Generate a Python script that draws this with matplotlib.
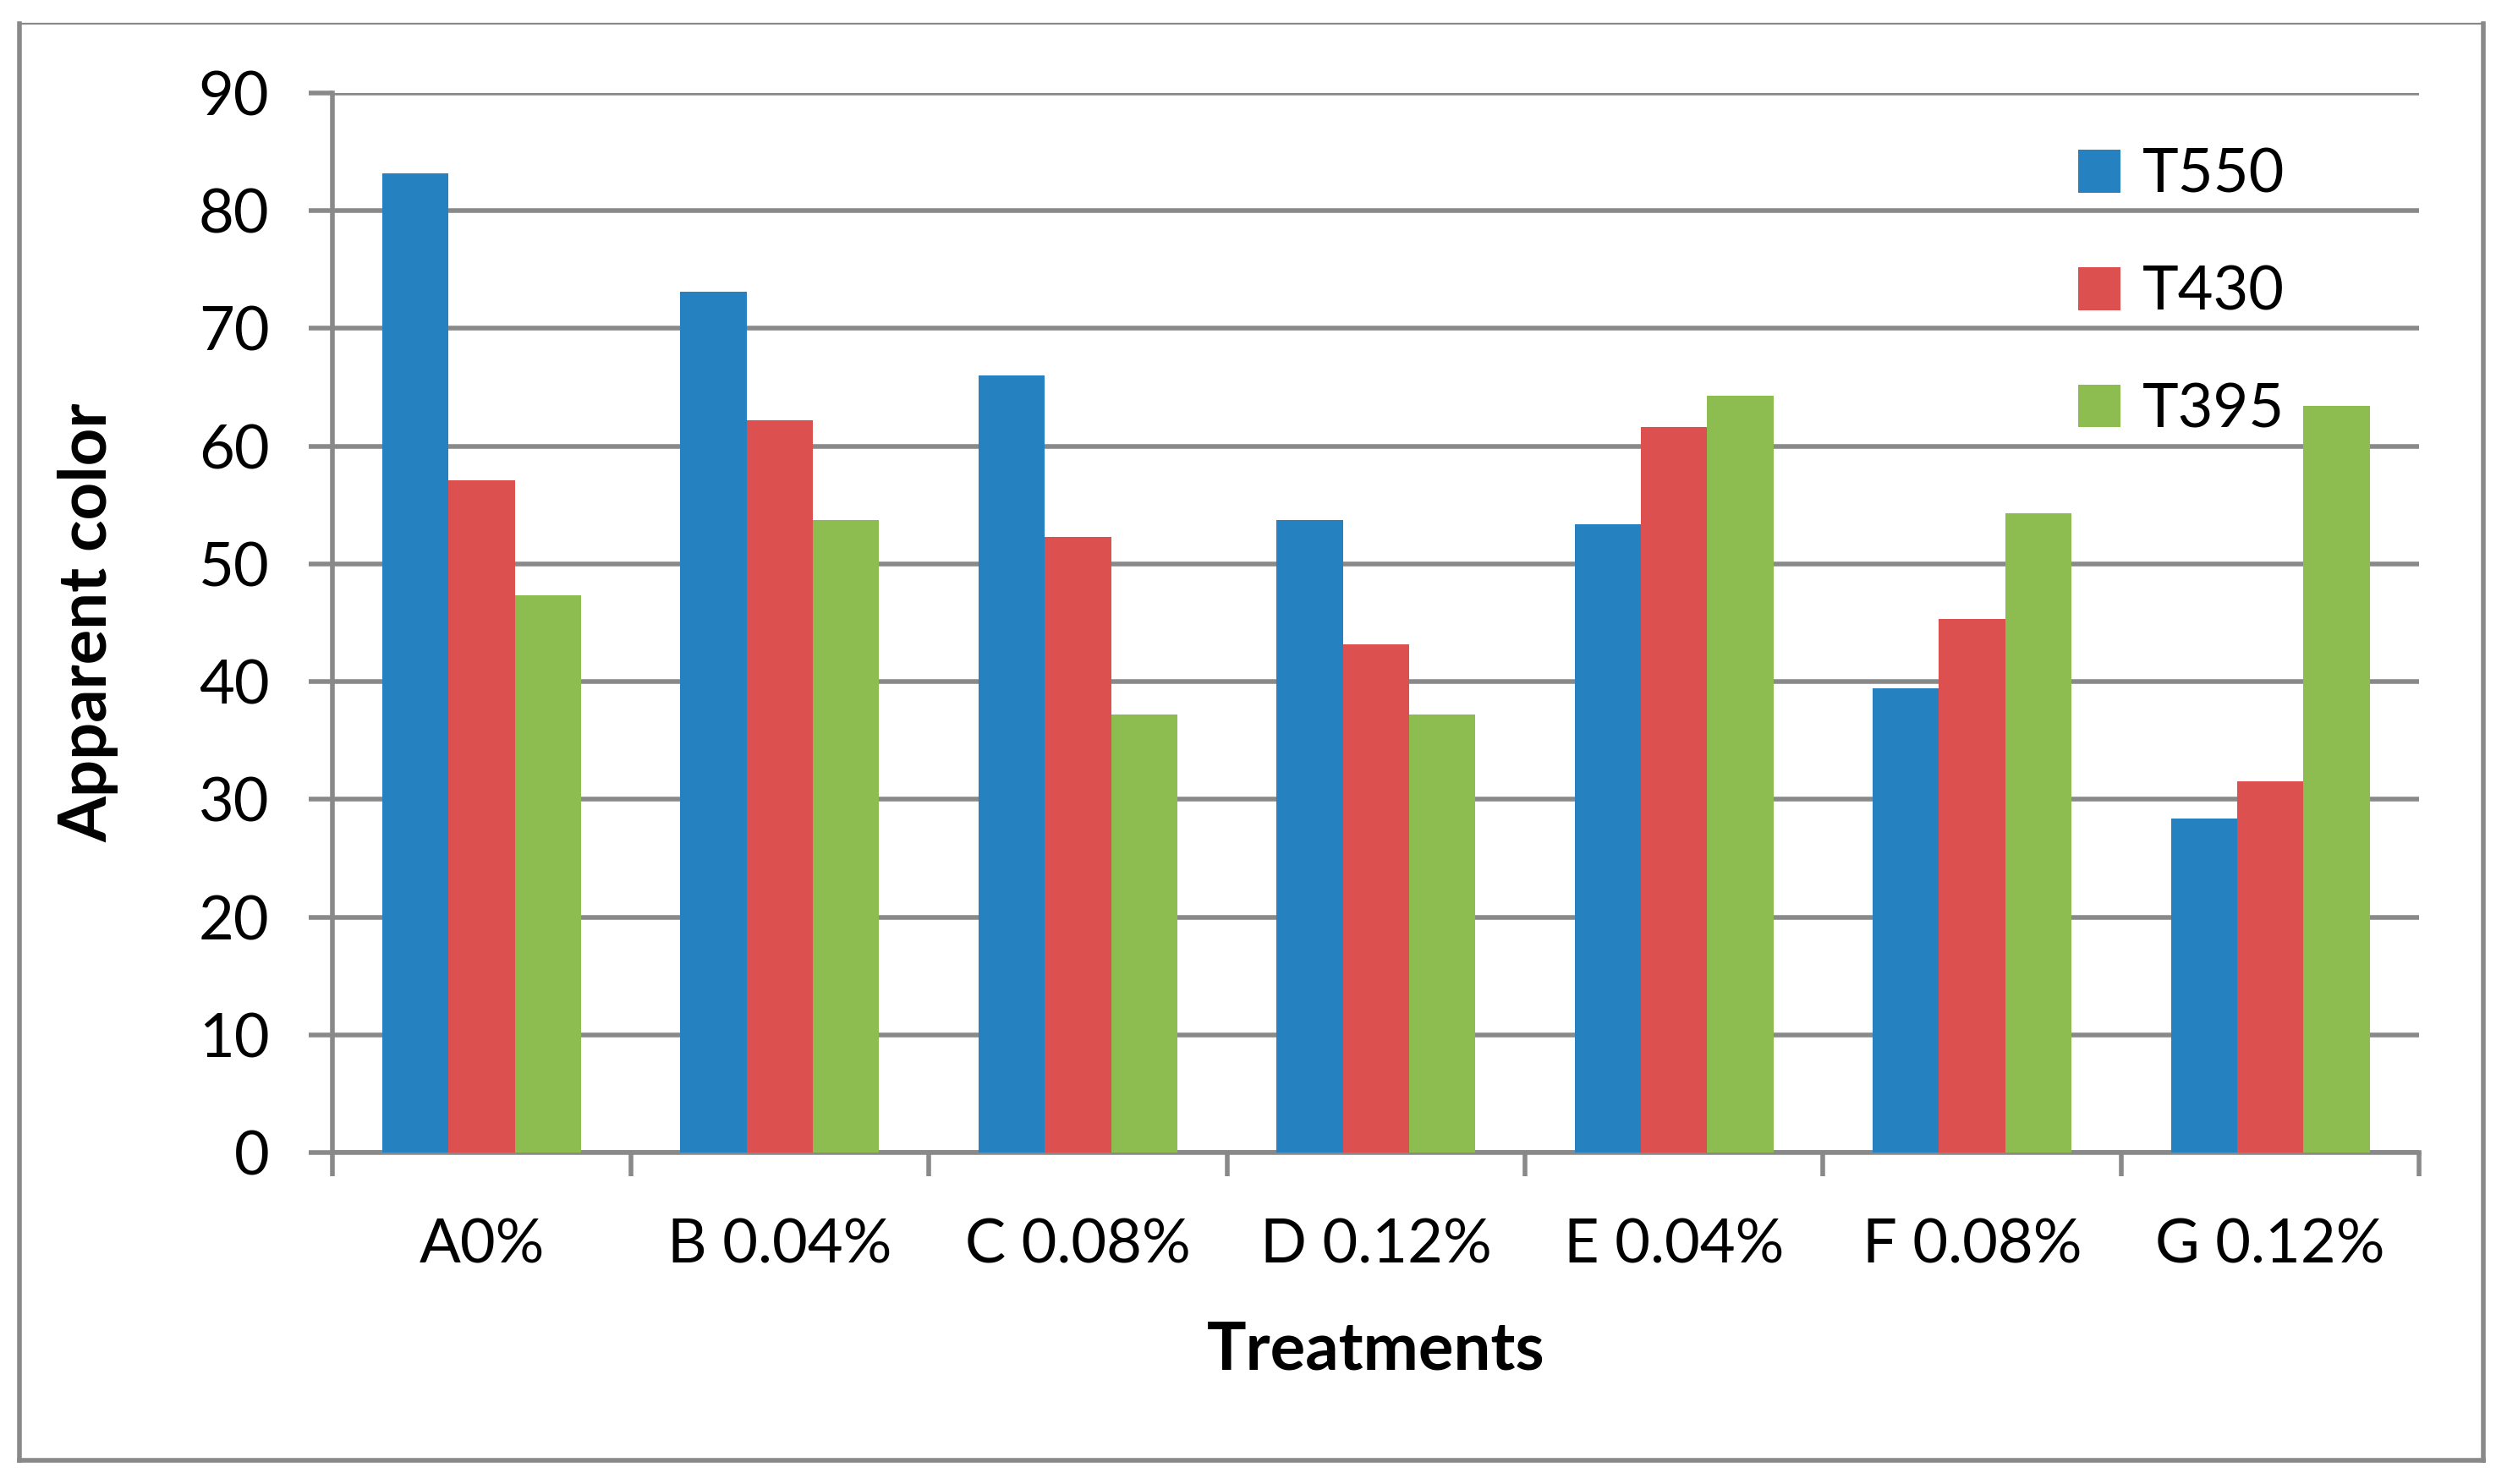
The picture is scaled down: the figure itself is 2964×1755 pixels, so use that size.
import numpy as np
import matplotlib.pyplot as plt
from matplotlib.lines import Line2D

plt.rcParams['font.family'] = ['Lato', 'DejaVu Sans']

# data
categories = ['A0%', 'B 0.04%', 'C 0.08%', 'D 0.12%', 'E 0.04%', 'F 0.08%', 'G 0.12%']
series_names = ['T550', 'T430', 'T395']
t550 = [83.2, 73.1, 66.0, 53.7, 53.4, 39.4, 28.4]
t430 = [57.1, 62.2, 52.3, 43.2, 61.6, 45.3, 31.5]
t395 = [47.3, 53.7, 37.2, 37.2, 64.3, 54.3, 63.4]
colors = ['#2581C0', '#DD5050', '#8DBD50']
grey = '#898989'

fig = plt.figure(figsize=(14.82, 8.775), dpi=200)
ax = fig.add_axes([0.1327, 0.2233, 0.8323, 0.7141])

x = np.arange(len(categories))
w = 1 / 4.5
for i, (vals, name) in enumerate(zip([t550, t430, t395], series_names)):
    ax.bar(x + (i - 1) * w, vals, width=w, color=colors[i], label=name, zorder=3)

ax.set_xlim(-0.5, len(categories) - 0.5)
ax.set_ylim(0, 90)
ax.set_yticks(np.arange(0, 91, 10))
ax.yaxis.grid(True, color=grey, linewidth=2.0, zorder=0)
ax.set_axisbelow(True)

for s in ['top', 'right']:
    ax.spines[s].set_visible(False)
for s in ['left', 'bottom']:
    ax.spines[s].set_color(grey)
    ax.spines[s].set_linewidth(2.0)

ax.tick_params(axis='y', length=10, width=2.0, color=grey, pad=17, labelsize=26)
ax.set_xticks(x)
ax.set_xticklabels(categories)
ax.set_xticks(np.arange(-0.5, len(categories)), minor=True)
ax.tick_params(axis='x', which='major', length=0, pad=28, labelsize=26)
ax.tick_params(axis='x', which='minor', length=10, width=2.0, color=grey)

ax.set_ylabel('Apparent color', fontsize=28, fontweight='bold', labelpad=34)
ax.set_xlabel('Treatments', fontsize=28, fontweight='bold', labelpad=20)

ax.legend(loc='upper left', bbox_to_anchor=(0.81, 1.0), frameon=False,
          fontsize=26, labelspacing=1.02, handlelength=0.7, handleheight=0.7,
          handletextpad=0.35)

# outer chart border
fig.add_artist(Line2D([0.0077, 0.9904], [0.9838, 0.9838], color=grey, linewidth=0.8))
fig.add_artist(Line2D([0.0077, 0.0077], [0.0162, 0.9838], color=grey, linewidth=2.0))
fig.add_artist(Line2D([0.9904, 0.9904], [0.0162, 0.9838], color=grey, linewidth=2.0))
fig.add_artist(Line2D([0.0077, 0.9904], [0.0162, 0.0162], color=grey, linewidth=2.0))

fig.savefig('out.png', dpi=200)
